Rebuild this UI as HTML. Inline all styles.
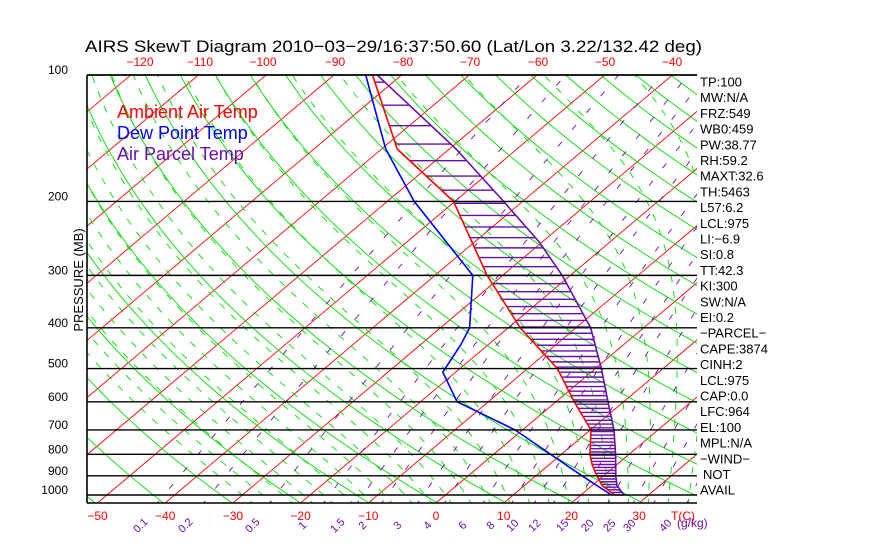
<!DOCTYPE html>
<html><head><meta charset="utf-8">
<style>
html,body{margin:0;padding:0;background:#fff;}
svg{display:block;font-family:"Liberation Sans",sans-serif;}
</style></head>
<body>
<svg id="chart" width="870" height="560" viewBox="0 0 870 560" xmlns="http://www.w3.org/2000/svg">
<defs><clipPath id="plotclip"><rect x="87" y="75" width="610" height="428"/></clipPath></defs>
<rect width="870" height="560" fill="#fff"/>
<text x="85" y="52" font-size="17" fill="#000" textLength="617" lengthAdjust="spacingAndGlyphs">AIRS SkewT Diagram 2010−03−29/16:37:50.60 (Lat/Lon 3.22/132.42 deg)</text>
<g id="bg" clip-path="url(#plotclip)"></g>
<g id="profiles" clip-path="url(#plotclip)"></g>
<g id="axes"></g>
<g font-size="18">
<text x="117" y="118" fill="#ff0000">Ambient Air Temp</text>
<text x="117" y="139" fill="#0000ff">Dew Point Temp</text>
<text x="117" y="160" fill="#6a0dad">Air Parcel Temp</text>
</g>
<g id="stats" font-size="13" fill="#000"></g>
</svg>
<script>
// ---- data ----
const envP = [1000,950,900,850,800,700,600,500,400,300,200,150,100];
const envT = [25,21.5,19,16.5,14.2,10.1,2.7,-5.6,-18.2,-32.3,-50.2,-67.7,-84.3];
const dewP = [1000,900,800,700,600,510,440,400,300,200,150,100];
const dewT = [24.5,16.8,8.4,-1.1,-14.6,-21.9,-24,-25.7,-34.4,-56,-69.4,-85.3];
const parP = [1000,950,900,800,700,600,500,400,300,250,200,150,100];
const parT = [26.4,23.7,21.8,18,13.5,7.7,0.9,-7.8,-21.2,-30.4,-42.8,-59,-83.6];
const pLevels = [100,200,300,400,500,600,700,800,900,1000];
const bottomT = [-50,-40,-30,-20,-10,0,10,20,30];
const topT = [-120,-110,-100,-90,-80,-70,-60,-50,-40];
const topTx = [140,200,263,335,403,470,538,605,672];
const mixW = [0.1,0.2,0.5,1,1.5,2,3,4,6,8,10,12,15,20,25,30,40];
const mixLabX = [143,188,255,305,340,365,400,430,465,493,515,537,565,590,612,632,668];
const stats = ["TP:100","MW:N/A","FRZ:549","WB0:459","PW:38.77","RH:59.2","MAXT:32.6","TH:5463","L57:6.2","LCL:975","LI:−6.9","SI:0.8","TT:42.3","KI:300","SW:N/A","EI:0.2","−PARCEL−","CAPE:3874","CINH:2","LCL:975","CAP:0.0","LFC:964","EL:100","MPL:N/A","−WIND−","NOT","AVAIL"];

// ---- axes functions ----
const TOP=75, BOT=503, LEFT=87, RIGHT=697, KP=182.4, X0=436, SX=6.77, SK=1.185;
function yP(p){return TOP+KP*Math.log(p/100);}
function xT(t,y){return X0+SX*t+(BOT-y)*SK;}
const NS='http://www.w3.org/2000/svg';
function mk(tag,attrs,parent){const e=document.createElementNS(NS,tag);for(const k in attrs)e.setAttribute(k,attrs[k]);parent.appendChild(e);return e;}
const bg=document.getElementById('bg'), prof=document.getElementById('profiles'), axes=document.getElementById('axes'), st=document.getElementById('stats');
function poly(pts,stroke,w,dash,parent,name){
  const el=mk('polyline',{points:pts.map(q=>q[0].toFixed(1)+','+q[1].toFixed(1)).join(' '),fill:'none',stroke:stroke,'stroke-width':w},parent);
  if(dash)el.setAttribute('stroke-dasharray',dash);
  
  
  return el;
}
const PMAX=1060;
for(let t=-170;t<=50;t+=10){
  const el=mk('line',{x1:xT(t,BOT),y1:BOT,x2:xT(t,TOP),y2:TOP,stroke:'#ff0000','stroke-width':0.9},bg);
  
  
}
for(let th=180;th<=520;th+=10){
  const pts=[];for(let p=PMAX;p>=95;p-=10){const T=th*Math.pow(p/1000,0.286)-273.15;const y=yP(p);pts.push([xT(T,y),y]);}
  poly(pts,'#00dd00',0.9,null,bg,'dry-adiabat');
}
function es(T){return 6.112*Math.exp(17.67*T/(T+243.5));}
for(let tw=-30;tw<=40;tw+=3){
  let T=tw+273.15;const pts=[];
  let Tb=T;for(let p=1000;p<PMAX;p+=5){const rs=0.622*es(Tb-273.15)/(p-es(Tb-273.15));const d=(287*Tb+2.5e6*rs)/(p*(1004+2.5e6*2.5e6*rs*0.622/(287*Tb*Tb)));Tb+=d*5;}
  for(let p=PMAX;p>1000;p-=5){const rs=0.622*es(Tb-273.15)/(p-es(Tb-273.15));const d=(287*Tb+2.5e6*rs)/(p*(1004+2.5e6*2.5e6*rs*0.622/(287*Tb*Tb)));const y=yP(p);pts.push([xT(Tb-273.15,y),y]);Tb-=d*5;}
  for(let p=1000;p>=100;p-=5){const y=yP(p);pts.push([xT(T-273.15,y),y]);const e=es(T-273.15);const rs=0.622*e/Math.max(p-e,1);const d=(287*T+2.5e6*rs)/(p*(1004+2.5e6*2.5e6*rs*0.622/(287*T*T)));T-=d*5;}
  poly(pts,'#00dd00',0.9,'7 9',bg,'moist-adiabat');
}
function tdFromW(w,p){const e=w*p/(622+w);const l=Math.log(e/6.112);return 243.5*l/(17.67-l);}
for(const w of mixW){
  const pts=[];for(let p=PMAX;p>=100;p-=10){const y=yP(p);pts.push([xT(tdFromW(w,p),y),y]);}
  poly(pts,'#6a0dad',0.9,'6 16',bg,'mixing-ratio-line');
}
pLevels.forEach(p=>{const y=yP(p);const el=mk('line',{x1:LEFT,y1:y,x2:RIGHT,y2:y,stroke:'#000','stroke-width':1.4},axes);
  
  
  const tx=mk('text',{x:68,y:y-1,'font-size':12,'text-anchor':'end',fill:'#000'},axes);tx.textContent=String(p);
  
  
});
function interp(P,T,p){for(let i=0;i<P.length-1;i++){if(p<=P[i]&&p>=P[i+1]){const f=Math.log(P[i]/p)/Math.log(P[i]/P[i+1]);return T[i]+f*(T[i+1]-T[i]);}}return null;}
for(let p=1000;p>=100;p-=14){
  const te=interp(envP,envT,p), tp=interp(parP,parT,p);if(te===null||tp===null)continue;
  const y=yP(p), x1=xT(te,y), x2=xT(tp,y);
  if(x2>x1+1){const el=mk('line',{x1:x1,y1:y,x2:x2,y2:y,stroke:'#6a0dad','stroke-width':1.4},prof);
    
    }
}
function profLine(P,T,c,name){poly(P.map((p,i)=>{const y=yP(p);return [xT(T[i],y),y];}),c,1.6,null,prof,name);}
profLine(parP,parT,'#6a0dad','parcel-temp-line');
profLine(dewP,dewT,'#0000ff','dewpoint-line');
profLine(envP,envT,'#ff0000','ambient-temp-line');
[[LEFT,TOP,RIGHT,TOP],[LEFT,TOP,LEFT,BOT],[LEFT,BOT,RIGHT,BOT]].forEach(a=>{const el=mk('line',{x1:a[0],y1:a[1],x2:a[2],y2:a[3],stroke:'#000','stroke-width':1.6},axes);
  
  });
bottomT.forEach(t=>{const tx=mk('text',{x:xT(t,BOT),y:520,'font-size':12,'text-anchor':'middle',fill:'#ff0000'},axes);tx.textContent=t<0?'−'+(-t):String(t);
  
  });
const tc=mk('text',{x:683,y:520,'font-size':12,'text-anchor':'middle',fill:'#ff0000'},axes);tc.textContent='T(C)';


topT.forEach((t,i)=>{const tx=mk('text',{x:topTx[i],y:66,'font-size':12,'text-anchor':'middle',fill:'#ff0000'},axes);tx.textContent='−'+(-t);
  
  });
mixW.forEach((w,i)=>{const x=mixLabX[i],y=528;const tx=mk('text',{x:x,y:y,'font-size':11,'text-anchor':'middle',fill:'#6a0dad',transform:'rotate(-45 '+x+' '+y+')'},axes);tx.textContent=String(w);
  
  });
const gk=mk('text',{x:677,y:527,'font-size':12,fill:'#6a0dad'},axes);gk.textContent='(g/kg)';


const yt=mk('text',{x:0,y:0,'font-size':13,'text-anchor':'middle',fill:'#000',transform:'translate(83,280) rotate(-90)'},axes);yt.textContent='PRESSURE (MB)';


stats.forEach((s,i)=>{const tx=mk('text',{x:s==='NOT'?703:700,y:86.5+i*15.7},st);tx.textContent=s;
  
  });
</script>
</body></html>
